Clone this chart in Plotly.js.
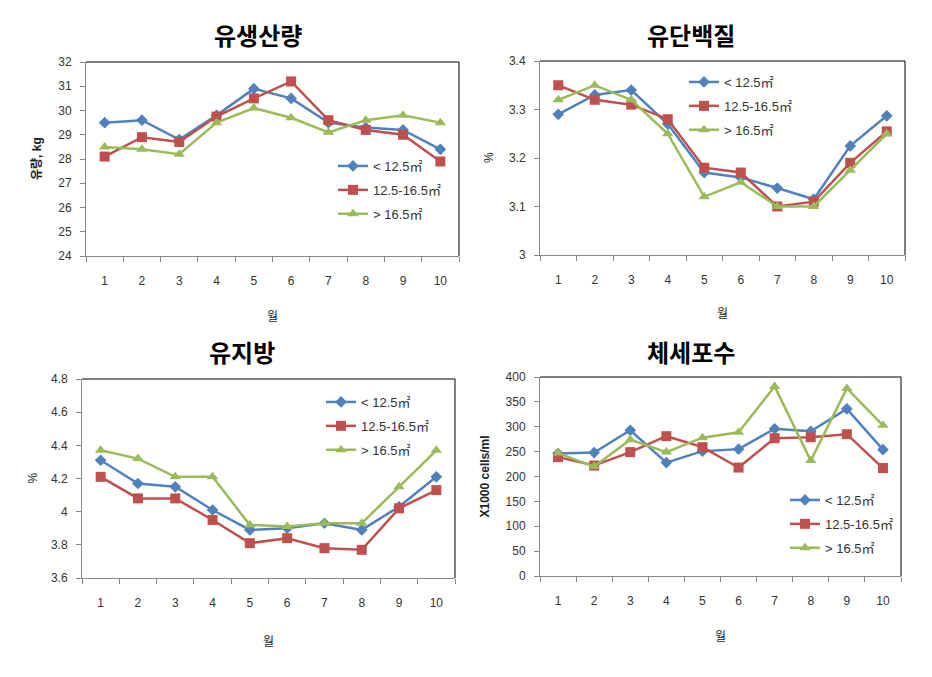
<!DOCTYPE html>
<html><head><meta charset="utf-8">
<script src="https://cdn.plot.ly/plotly-3.0.1.min.js"></script>
<style>html,body{margin:0;padding:0;background:#fff}#chart{width:932px;height:677px}</style>
</head><body><div id="chart"></div>
<script>
const months = ['1','2','3','4','5','6','7','8','9','10'];
const seriesNames = ['< 12.5㎡', '12.5-16.5㎡', '> 16.5㎡'];

const milkSmall = [29.5, 29.6, 28.8, 29.8, 30.9, 30.5, 29.5, 29.3, 29.2, 28.4];
const milkMid   = [28.1, 28.9, 28.7, 29.75, 30.5, 31.2, 29.6, 29.2, 29.0, 27.9];
const milkLarge = [28.5, 28.4, 28.2, 29.5, 30.1, 29.7, 29.1, 29.6, 29.8, 29.5];

const protSmall = [3.29, 3.33, 3.34, 3.27, 3.17, 3.16, 3.138, 3.115, 3.225, 3.287];
const protMid   = [3.35, 3.32, 3.31, 3.28, 3.18, 3.17, 3.10, 3.11, 3.19, 3.255];
const protLarge = [3.32, 3.35, 3.32, 3.25, 3.12, 3.15, 3.10, 3.10, 3.175, 3.25];

const fatSmall = [4.31, 4.17, 4.15, 4.01, 3.89, 3.90, 3.93, 3.89, 4.03, 4.21];
const fatMid   = [4.21, 4.08, 4.08, 3.95, 3.81, 3.84, 3.78, 3.77, 4.02, 4.13];
const fatLarge = [4.37, 4.32, 4.21, 4.21, 3.92, 3.91, 3.93, 3.93, 4.15, 4.37];

const sccSmall = [246, 248, 293, 228, 251, 255, 296, 291, 336, 254];
const sccMid   = [239, 222, 249, 281, 259, 218, 277, 279, 285, 217];
const sccLarge = [247, 220, 274, 249, 278, 289, 381, 232, 377, 303];

const colors = ['#4F81BD', '#C0504D', '#9BBB59'];
const symbols = ['diamond', 'square', 'triangle-up'];
const msizes = [9, 10, 10];

const panels = [
  {data:[milkSmall, milkMid, milkLarge], title:'유생산량', ytitle:'유량, kg', ybold:true, range:[24,32], dtick:1},
  {data:[protSmall, protMid, protLarge], title:'유단백질', ytitle:'%', ybold:false, range:[3,3.4], dtick:0.1},
  {data:[fatSmall, fatMid, fatLarge], title:'유지방', ytitle:'%', ybold:false, range:[3.6,4.8], dtick:0.2},
  {data:[sccSmall, sccMid, sccLarge], title:'체세포수', ytitle:'X1000 cells/ml', ybold:true, range:[0,400], dtick:50}
];

// plot areas in pixels [x0,x1,y0(top),y1(bottom)]
const boxes = [[86,459,62,256],[540,905,61,255],[82,455,379,578],[540,901,377,576]];
const legendPos = [[333,151],[684,67],[321,387],[785,485]];
const titlePos = [[258,35],[691,35],[242,352],[691,352]];
const ytitleX = [37,489,32,484];
const xtitleY = [315,313,640,635];
const W = 932, H = 677;
const FONT = 'Liberation Sans, Noto Sans CJK KR, sans-serif';

const traces = [];
const layout = {
  width: W, height: H, margin:{l:0,r:0,t:0,b:0},
  paper_bgcolor:'#fff', plot_bgcolor:'#fff',
  font:{family:FONT, size:12, color:'#222'},
  annotations:[], shapes:[], showlegend:true
};

panels.forEach((p, i) => {
  const n = i + 1;
  const xa = n === 1 ? 'x' : 'x' + n;
  const ya = n === 1 ? 'y' : 'y' + n;
  const lg = n === 1 ? 'legend' : 'legend' + n;
  const b = boxes[i];
  p.data.forEach((vals, k) => {
    traces.push({
      type:'scatter', mode:'lines+markers', x:months, y:vals,
      name:seriesNames[k], xaxis:xa, yaxis:ya, legend:lg,
      legendgroup:'g'+n+'_'+k,
      line:{color:colors[k], width:2.5},
      marker:{symbol:symbols[k], size:msizes[k], color:colors[k]}
    });
  });
  const xkey = n === 1 ? 'xaxis' : 'xaxis' + n;
  const ykey = n === 1 ? 'yaxis' : 'yaxis' + n;
  layout[xkey] = {
    domain:[b[0]/W, b[1]/W], anchor:ya, type:'category',
    range:[-0.5, 9.5], tickson:'boundaries', ticks:'outside', ticklen:5,
    tickcolor:'#888', showline:true, linecolor:'#888', linewidth:1,
    showgrid:false, zeroline:false, ticklabelstandoff:14,
    tickfont:{size:12, color:'#333'}, fixedrange:true
  };
  layout[ykey] = {
    domain:[1-b[3]/H, 1-b[2]/H], anchor:xa, range:p.range, dtick:p.dtick,
    tick0:p.range[0], ticks:'outside', ticklen:5, tickcolor:'#888',
    showline:true, linecolor:'#888', linewidth:1, showgrid:false,
    zeroline:false, ticklabelstandoff:6, tickfont:{size:12, color:'#333'},
    fixedrange:true
  };
  layout[lg] = {
    x:legendPos[i][0]/W, y:1-legendPos[i][1]/H, xanchor:'left', yanchor:'top',
    bgcolor:'rgba(0,0,0,0)', borderwidth:0, tracegroupgap:4,
    font:{size:13, color:'#333', family:FONT}, itemwidth:30
  };
  // top/right frame in black
  layout.shapes.push({type:'line', xref:xa+' domain', yref:ya+' domain', x0:0, x1:1, y0:1, y1:1, line:{color:'#000', width:1}});
  layout.shapes.push({type:'line', xref:xa+' domain', yref:ya+' domain', x0:1, x1:1, y0:0, y1:1, line:{color:'#000', width:1}});
  layout.annotations.push({xref:'paper', yref:'paper', x:titlePos[i][0]/W, y:1-titlePos[i][1]/H,
    text:'<b>'+p.title+'</b>', showarrow:false, xanchor:'center', yanchor:'middle',
    font:{family:'Noto Sans CJK KR, sans-serif', size:24, color:'#000'}});
  layout.annotations.push({xref:'paper', yref:'paper', x:ytitleX[i]/W, y:1-((b[2]+b[3])/2)/H,
    text:p.ybold ? '<b>'+p.ytitle+'</b>' : p.ytitle, showarrow:false, textangle:-90,
    xanchor:'center', yanchor:'middle', font:{family:FONT, size:12, color:'#222'}});
  layout.annotations.push({xref:'paper', yref:'paper', x:((b[0]+b[1])/2)/W, y:1-xtitleY[i]/H,
    text:'월', showarrow:false, xanchor:'center', yanchor:'middle',
    font:{family:'Noto Sans CJK KR, sans-serif', size:12, color:'#222'}});
});

Plotly.newPlot('chart', traces, layout, {displayModeBar:false, staticPlot:true});
</script></body></html>
